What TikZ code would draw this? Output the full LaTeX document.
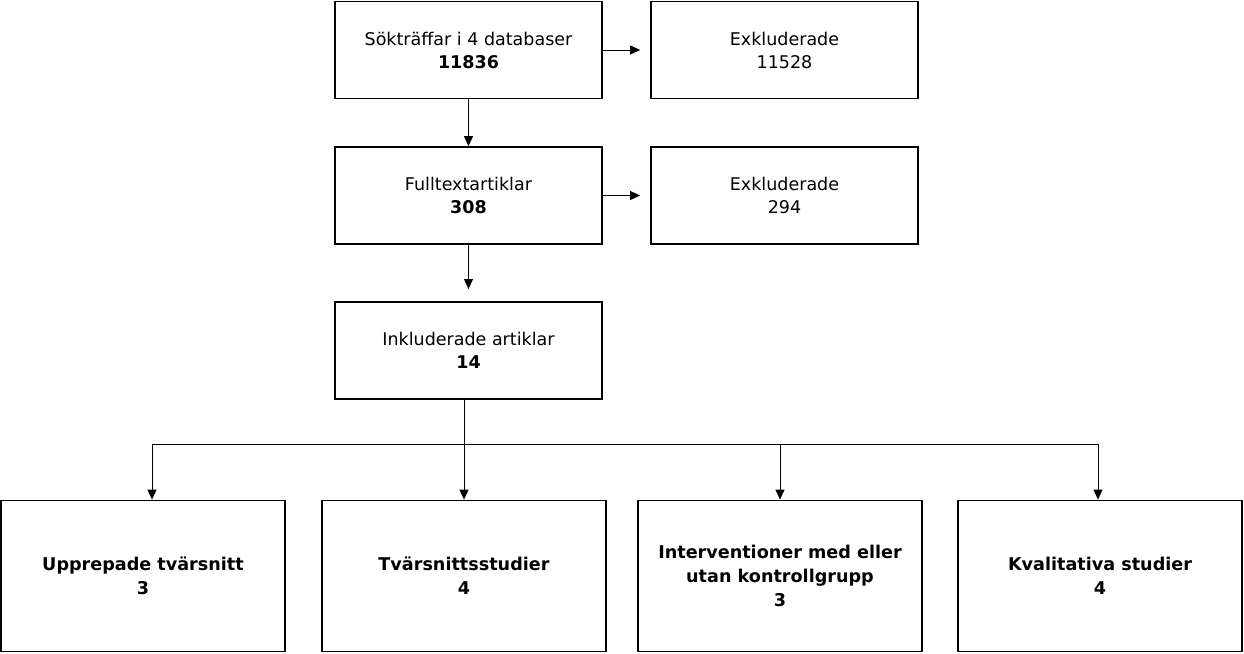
\documentclass[tikz,border=0pt]{standalone}
\usepackage{fontspec}
\setmainfont{DejaVu Sans}
\usetikzlibrary{arrows.meta}
\begin{document}
\begin{tikzpicture}[x=1pt,y=-1pt,
  box/.style={draw, line width=1.8pt, minimum width=267pt, minimum height=97pt, align=center, inner sep=0pt, font=\fontsize{17.5}{23}\selectfont},
  bbox/.style={draw, line width=1.8pt, minimum width=284pt, minimum height=151pt, align=center, inner sep=0pt, font=\fontsize{17.6}{24}\selectfont\bfseries},
  conn/.style={line width=0.9pt, -{Triangle[width=9pt,length=10pt]}},
  plain/.style={line width=0.9pt}]
\useasboundingbox (0,0) rectangle (1244,653);
\node[box] (a) at (468.5,50) {Sökträffar i 4 databaser\\\textbf{11836}};
\node[box] (b) at (784.5,50) {Exkluderade\\11528};
\node[box] (c) at (468.5,195.5) {Fulltextartiklar\\\textbf{308}};
\node[box] (d) at (784.5,195.5) {Exkluderade\\294};
\node[box] (e) at (468.5,350.5) {Inkluderade artiklar\\\textbf{14}};
\node[bbox] (f1) at (143,576) {Upprepade tvärsnitt\\3};
\node[bbox] (f2) at (464,576) {Tvärsnittsstudier\\4};
\node[bbox] (f3) at (780,576) {Interventioner med eller\\utan kontrollgrupp\\3};
\node[bbox] (f4) at (1100,576) {Kvalitativa studier\\4};
\coordinate (t1) at (152,444);
\coordinate (t2) at (464,444);
\coordinate (t3) at (780,444);
\coordinate (t4) at (1098,444);
\draw[conn] (a.east) -- ([xshift=-10pt]b.west);
\draw[conn] (c.east) -- ([xshift=-10pt]d.west);
\draw[conn] (a.south) -- (c.north);
\draw[conn] (c.south) -- ([yshift=12pt]e.north);
\draw[conn] (e.south -| t2) -- (f2.north -| t2);
\draw[plain] (t1) -- (t4);
\draw[conn] (t1) -- (f1.north -| t1);
\draw[conn] (t3) -- (f3.north -| t3);
\draw[conn] (t4) -- (f4.north -| t4);
\end{tikzpicture}
\end{document}
